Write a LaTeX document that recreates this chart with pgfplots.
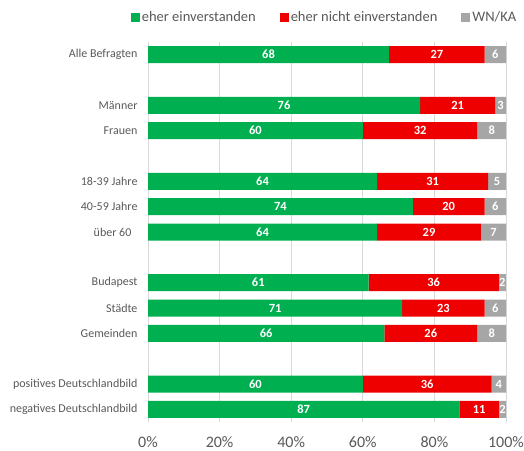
\documentclass[border=0pt]{standalone}
\usepackage{fontspec}
\setmainfont{Carlito}
\usepackage{pgfplots}
\usepackage{pgfplotstable}
\pgfplotsset{compat=1.18}
\definecolor{cgreen}{HTML}{00B050}
\definecolor{cred}{HTML}{EE0000}
\definecolor{cgray}{HTML}{A6A6A6}
\definecolor{ctext}{HTML}{595959}
\definecolor{cgrid}{HTML}{D9D9D9}

\pgfplotstableread{
pos g r w
0 68 27 6
2 76 21 3
3 60 32 8
5 64 31 5
6 74 20 6
7 64 29 7
9 61 36 2
10 71 23 6
11 66 26 8
13 60 36 4
14 87 11 2
}\data
\pgfplotstablecreatecol[expr={\thisrow{g}*100/(\thisrow{g}+\thisrow{r}+\thisrow{w})}]{gn}\data
\pgfplotstablecreatecol[expr={\thisrow{r}*100/(\thisrow{g}+\thisrow{r}+\thisrow{w})}]{rn}\data
\pgfplotstablecreatecol[expr={\thisrow{w}*100/(\thisrow{g}+\thisrow{r}+\thisrow{w})}]{wn}\data
\pgfplotstablecreatecol[expr={\thisrow{gn}/2}]{gm}\data
\pgfplotstablecreatecol[expr={\thisrow{gn}+\thisrow{rn}/2}]{rm}\data
\pgfplotstablecreatecol[expr={\thisrow{gn}+\thisrow{rn}+\thisrow{wn}/2}]{wm}\data

\pgfplotsset{geom/.style={
  at={(148pt,28pt)}, anchor=south west, scale only axis,
  width=358pt, height=380pt,
  xmin=0, xmax=100, ymin=-0.5, ymax=14.5, y dir=reverse,
  /pgf/number format/assume math mode=true}}

\begin{document}
\begin{tikzpicture}[x=1pt,y=1pt]
\path[use as bounding box] (0,0) rectangle (524,450);
\begin{axis}[
  geom,
  xbar stacked, bar width=17pt,
  axis line style={draw=none}, major tick length=0pt,
  xmajorgrids, grid style={cgrid, line width=0.8pt},
  xtick={0,20,...,100},
  xticklabel={\pgfmathprintnumber{\tick}\%},
  xticklabel style={font=\fontsize{16}{16}\selectfont, text=ctext, yshift=-11pt},
  ytick={0,2,3,5,6,7,9,10,11,13,14},
  yticklabels={Alle Befragten, Männer, Frauen, 18-39 Jahre, 40-59 Jahre, über 60\phantom{0}, Budapest, Städte, Gemeinden, positives Deutschlandbild, negatives Deutschlandbild},
  yticklabel style={font=\fontsize{12}{12}\selectfont, text=ctext, xshift=-7pt},
  legend columns=3,
  legend style={at={(0.493,1)}, anchor=center, yshift=25pt, draw=none, fill=none,
    font=\fontsize{14.5}{14.5}\selectfont, text=ctext,
    /tikz/every even column/.append style={column sep=22pt},
    inner sep=0pt},
  legend image code/.code={\fill[#1] (0pt,-4.5pt) rectangle (9pt,4.5pt);},
]
\addplot[fill=cgreen, draw=none] table[x=gn, y=pos]{\data};
\addlegendentry{eher einverstanden}
\addplot[fill=cred, draw=none] table[x=rn, y=pos]{\data};
\addlegendentry{eher nicht einverstanden}
\addplot[fill=cgray, draw=none] table[x=wn, y=pos]{\data};
\addlegendentry{WN/KA}
\end{axis}
\begin{axis}[
  geom, hide axis, clip=false,
  nodes near coords={\pgfmathprintnumber[fixed,precision=0]{\pgfplotspointmeta}},
  point meta=explicit,
  every node near coord/.append style={anchor=center, inner sep=0pt, font=\bfseries\fontsize{12.5}{12.5}\selectfont, text=white},
]
\addplot[draw=none, mark=none] table[x=gm, y=pos, meta=g]{\data};
\addplot[draw=none, mark=none] table[x=rm, y=pos, meta=r]{\data};
\addplot[draw=none, mark=none] table[x=wm, y=pos, meta=w]{\data};
\end{axis}
\end{tikzpicture}
\end{document}
